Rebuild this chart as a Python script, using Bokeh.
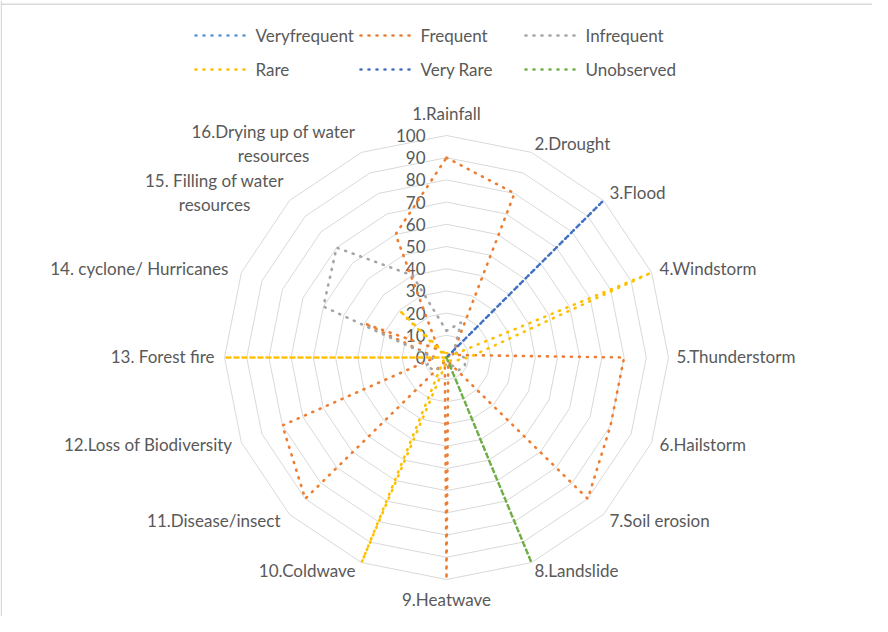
import numpy as np
from bokeh.plotting import figure
from bokeh.models import Range1d, Span
from bokeh.core.properties import value
from bokeh.embed import file_html
from bokeh.resources import INLINE

# ---------------- data ----------------
categories = ["1.Rainfall", "2.Drought", "3.Flood", "4.Windstorm", "5.Thunderstorm",
              "6.Hailstorm", "7.Soil erosion", "8.Landslide", "9.Heatwave", "10.Coldwave",
              "11.Disease/insect", "12.Loss of Biodiversity", "13. Forest fire",
              "14. cyclone/ Hurricanes", "15. Filling of water\nresources",
              "16.Drying up of water\nresources"]
series_names = ["Veryfrequent", "Frequent", "Infrequent", "Rare", "Very Rare", "Unobserved"]
veryfrequent = [0, 0, 0, 0, 0, 0, 0, 0, 0, 0, 0, 0, 0, 0, 0, 0]
frequent = [90, 80, 5, 3, 80, 80, 90, 2, 100, 2, 90, 80, 5, 40, 5, 60]
infrequent = [12, 17, 5, 5, 8, 9, 8, 3, 3, 5, 8, 10, 6, 60, 70, 40]
rare = [2, 2, 0, 100, 10, 4, 2, 2, 2, 100, 2, 0, 100, 0, 30, 2]
very_rare = [0, 0, 100, 0, 0, 0, 0, 0, 0, 0, 0, 0, 0, 0, 0, 0]
unobserved = [0, 0, 0, 0, 0, 0, 0, 100, 0, 0, 0, 0, 0, 0, 0, 0]
tick_values = [0, 10, 20, 30, 40, 50, 60, 70, 80, 90, 100]
tick_labels = ["0", "10", "20", "30", "40", "50", "60", "70", "80", "90", "100"]

series_values = [veryfrequent, frequent, infrequent, rare, very_rare, unobserved]
colors = ["#5B9BD5", "#ED7D31", "#A5A5A5", "#FFC000", "#4472C4", "#70AD47"]

# ---------------- layout ----------------
W, H = 872, 616
S = 2.22            # pixels per value unit
CX, CY = 446, 357   # radar centre on the canvas (px)
FONT = value("Lato")
TXT = "#595959"
GRID = "#D9D9D9"

p = figure(width=W, height=H,
           x_range=Range1d(-CX / S, (W - CX) / S),
           y_range=Range1d(-(H - CY) / S, CY / S),
           output_backend="svg", toolbar_location=None,
           x_axis_location=None, y_axis_location=None, min_border=0)
p.grid.visible = False
p.outline_line_color = None
p.background_fill_color = "white"
p.border_fill_color = "white"


def px(xc, yc):
    """canvas pixel -> data units"""
    return (xc - CX) / S, (CY - yc) / S


# frame border (left & top visible)
bx, by = px(0.8, 3.8)
p.add_layout(Span(location=bx, dimension="height", line_color=GRID, line_width=1.5))
p.add_layout(Span(location=by, dimension="width", line_color=GRID, line_width=1.5))

n = len(categories)
theta = np.arange(n) * 2 * np.pi / n
sx, cy = np.sin(theta), np.cos(theta)

# concentric grid rings
xs, ys = [], []
for lev in tick_values[1:]:
    xs.append(list(np.append(lev * sx, lev * sx[0])))
    ys.append(list(np.append(lev * cy, lev * cy[0])))
p.multi_line(xs, ys, line_color=GRID, line_width=1)

# value labels
p.text(x=[0] * len(tick_values), y=tick_values, text=tick_labels,
       x_offset=-21, text_align="right", text_baseline="middle",
       text_font=FONT, text_font_size="17px", text_color=TXT)

# series
for vals, col in zip(series_values, colors):
    v = np.array(vals + [vals[0]], dtype=float)
    th = np.append(theta, theta[0])
    p.line(v * np.sin(th), v * np.cos(th), line_color=col, line_width=2.6,
           line_dash="1 7", line_cap="round", line_join="round")

# category labels
rmax = tick_values[-1]
specs = [("center", 0, -22), ("left", 3, -9), ("left", 6, -8), ("left", 8, -4),
         ("left", 8, -1), ("left", 8, 2), ("left", 6, 6), ("left", 3, 8),
         ("center", 0, 20), ("right", -6, 8), ("right", -9, 6), ("right", -9, 2),
         ("right", -10, -1), ("right", -13, -4), ("center", -75, -8), ("center", -88, -9)]
for k, (lab, (al, dx, dy)) in enumerate(zip(categories, specs)):
    p.text(x=[rmax * sx[k]], y=[rmax * cy[k]], text=[lab], x_offset=dx, y_offset=dy,
           text_align=al, text_baseline="middle", text_font=FONT,
           text_font_size="17px", text_color=TXT, text_line_height=1.12)

# legend (two rows, three columns)
col_x = [195, 360, 525]
row_y = [35, 69]
for i, (name, col) in enumerate(zip(series_names, colors)):
    r, c = divmod(i, 3)
    x0, y0 = px(col_x[c], row_y[r])
    x1, _ = px(col_x[c] + 52, row_y[r])
    p.line([x0, x1], [y0, y0], line_color=col, line_width=2.6, line_dash="1 7",
           line_cap="round")
    xt, _ = px(col_x[c] + 60, row_y[r])
    p.text(x=[xt], y=[y0], text=[name], text_align="left", text_baseline="middle",
           text_font=FONT, text_font_size="17px", text_color=TXT)

open("out.html", "w").write(file_html(p, INLINE))
